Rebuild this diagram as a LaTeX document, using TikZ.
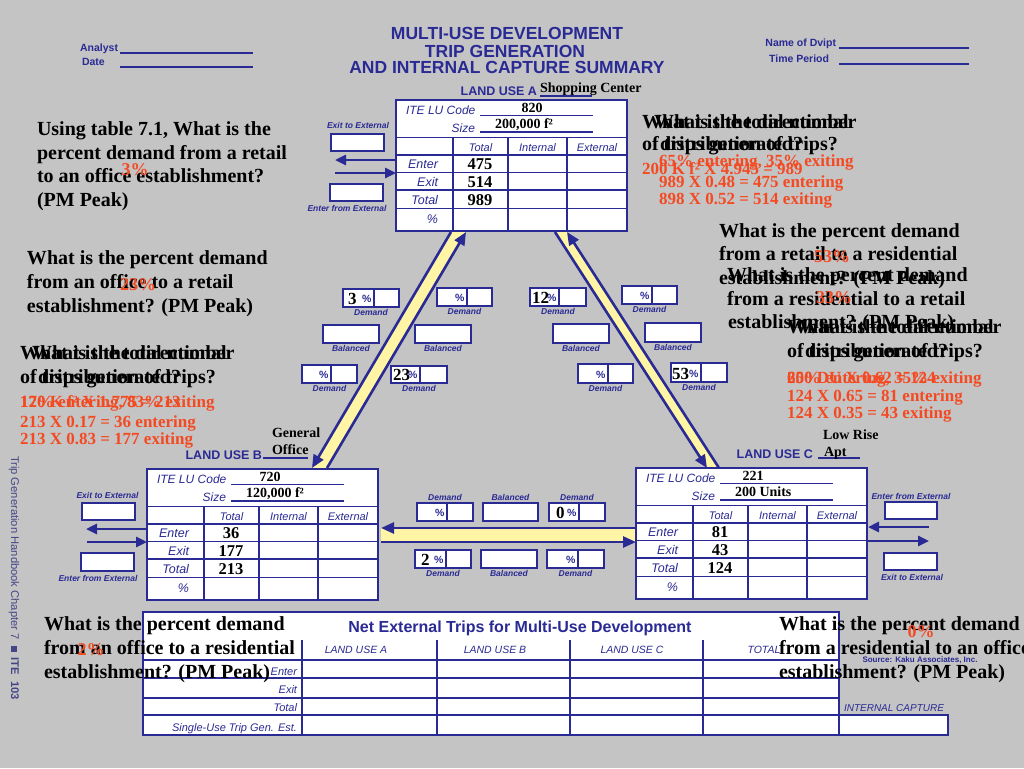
\documentclass[tikz,border=0pt]{standalone}
\usepackage{fontspec}
\setmainfont{Liberation Serif}
\setsansfont{Liberation Sans}
\usetikzlibrary{arrows.meta}
\definecolor{bgc}{RGB}{196,196,197}
\definecolor{fb}{RGB}{42,42,148}
\definecolor{org}{RGB}{244,74,34}
\definecolor{yel}{RGB}{255,245,165}
\definecolor{sidec}{RGB}{70,70,135}
\newcommand\fsz[2]{\fontsize{#1}{#2}\selectfont}
\tikzset{
  every node/.style={inner sep=0pt, outer sep=0pt},
  ttl/.style={anchor=base, text=fb, font=\sffamily\bfseries\fsz{17.5}{20}},
  hdl/.style={text=fb, font=\sffamily\bfseries\fsz{10.5}{12}},
  lub/.style={anchor=base east, text=fb, font=\sffamily\bfseries\fsz{12.5}{14}},
  tlab/.style={text=fb, font=\sffamily\itshape\fsz{12}{14}},
  colh/.style={anchor=base, text=fb, font=\sffamily\itshape\fsz{11}{13}},
  rowl/.style={anchor=base east, text=fb, font=\sffamily\itshape\fsz{12.5}{14}},
  bcolh/.style={anchor=base, text=fb, font=\sffamily\itshape\fsz{10.5}{12}},
  browl/.style={anchor=base east, text=fb, font=\sffamily\itshape\fsz{11}{13}},
  xsm/.style={text=fb, font=\sffamily\bfseries\itshape\fsz{8.5}{10}},
  hnd/.style={text=black, font=\bfseries\fsz{14}{16}},
  numv/.style={anchor=base, text=black, font=\bfseries\fsz{16.5}{18}},
  qtx/.style={anchor=base west, text=black, font=\bfseries\fsz{20}{24}},
  otx/.style={anchor=base west, text=org, font=\bfseries\fsz{17}{20}},
  opc/.style={anchor=center, text=org, font=\bfseries\fsz{18}{20}},
  wbox/.style={draw=fb, fill=white, line width=1.5pt},
  tabframe/.style={draw=fb, fill=white, line width=1.9pt},
  tabline/.style={draw=fb, line width=1.2pt},
  fl/.style={draw=fb, line width=1.1pt},
  extarr/.style={draw=fb, line width=2.6pt, -{Triangle[length=11pt,width=10pt]}},
  bandl/.style={draw=fb, line width=2.6pt, -{Triangle[length=13pt,width=11pt]}},
  pcts/.style={anchor=base east, text=fb, font=\sffamily\bfseries\fsz{10.5}{12}},
  valb/.style={anchor=base west, text=black, font=\bfseries\fsz{17}{18}},
}
% land-use table: x0 y0 id codex code size enter exit total
\newcommand\lutab[9]{%
\begin{scope}[shift={(#1,#2)}]
\draw[tabframe] (0,0) rectangle (231,131);
\draw[tabline] (0,37.5)--(231,37.5) (0,55)--(231,55) (0,72.5)--(231,72.5) (0,90)--(231,90) (0,108.5)--(231,108.5)
  (57,37.5)--(57,131) (112,37.5)--(112,131) (171,37.5)--(171,131);
\node[tlab,anchor=base west] (#3code) at (10,14.5) {ITE LU Code};
\draw[tabline] (84,15.5)--(197,15.5);
\node[tlab,anchor=base east] (#3size) at (79,32) {Size};
\draw[tabline] (84,32)--(197,32);
\node[hnd,anchor=base] (#3cv) at (#4,12) {#5};
\node[hnd,anchor=base west] (#3sv) at (99,28) {#6};
\node[colh] (#3h1) at (84.5,51) {Total};
\node[colh] (#3h2) at (141.5,51) {Internal};
\node[colh] (#3h3) at (201,51) {External};
\node[rowl] (#3r1) at (42,68) {Enter};
\node[rowl] (#3r2) at (42,86) {Exit};
\node[rowl] (#3r3) at (42,104) {Total};
\node[rowl] (#3r4) at (42,123) {\%};
\node[numv] (#3v1) at (84,69.5) {#7};
\node[numv] (#3v2) at (84,87) {#8};
\node[numv] (#3v3) at (84,105) {#9};
\end{scope}}
\newcommand\dbx[6]{%
  \draw[wbox] (#2,#3) rectangle (#4,#5);
  \draw[tabline] (#6,#3) -- (#6,#5);
  \node[pcts] (#1) at ({#6-2.5},{#5-5}) {\%};}
\newcommand\bbx[4]{\draw[wbox] (#1,#2) rectangle (#3,#4);}
\begin{document}
\begin{tikzpicture}[x=1pt,y=-1pt]
\fill[bgc] (0,0) rectangle (1024,768);
\useasboundingbox (0,0) rectangle (1024,768);

% header
\node[hdl,anchor=base east] (an) at (118,52) {Analyst};
\draw[fl] (120,53) -- (253,53);
\node[hdl,anchor=base west] (dt) at (82,66) {Date};
\draw[fl] (120,67) -- (253,67);
\node[ttl] (t1) at (507,40) {MULTI-USE DEVELOPMENT};
\node[ttl] (t2) at (505,57) {TRIP GENERATION};
\node[ttl] (t3) at (507,74) {AND INTERNAL CAPTURE SUMMARY};
\node[hdl,anchor=base east] (nd) at (836,46) {Name of Dvipt};
\draw[fl] (839,48) -- (969,48);
\node[hdl,anchor=base east] (tp) at (829,63) {Time Period};
\draw[fl] (839,64) -- (969,64);

% bands
\fill[yel] (451,231) -- (466,231) -- (327,468) -- (312,468) -- cycle;
\draw[bandl] (451,232) coordinate (lbo1) -- (312,468) coordinate (lbo2);
\draw[bandl] (327,468) coordinate (lbi2) -- (466,232) coordinate (lbi1);
\fill[yel] (555,231) -- (567,231) -- (719,468) -- (707,468) -- cycle;
\draw[bandl] (555,232) coordinate (rbi1) -- (707,468) coordinate (rbi2);
\draw[bandl] (719,468) coordinate (rbo2) -- (567,232) coordinate (rbo1);
\fill[yel] (381,528) rectangle (636,542);
\draw[bandl] (636,528) coordinate (hb1) -- (381,528) coordinate (hb2);
\draw[bandl] (381,542) coordinate (hb3) -- (636,542) coordinate (hb4);

% tables
\lutab{396}{100}{A}{136}{820}{200,000 f²}{475}{514}{989}
\lutab{147}{469}{B}{123}{720}{120,000 f²}{36}{177}{213}
\lutab{636}{468}{C}{117}{221}{200 Units}{81}{43}{124}

\node[lub] (luA) at (537,95) {LAND USE A};
\node[hnd,anchor=base west] (nmA) at (540,92) {Shopping Center};
\draw[fl] (540,96) -- (592,96);
\node[lub] (luB) at (262,459) {LAND USE B};
\draw[fl] (263,458) -- (308,458);
\node[hnd,anchor=base west] (nmB1) at (272,437) {General};
\node[hnd,anchor=base west] (nmB2) at (272,454) {Office};
\node[lub] (luC) at (813,458) {LAND USE C};
\draw[fl] (818,458) -- (860,458);
\node[hnd,anchor=base west] (nmC1) at (823,439) {Low Rise};
\node[hnd,anchor=base west] (nmC2) at (824,456) {Apt};

% external boxes and arrows
\node[xsm,anchor=base] (axl) at (358,128) {Exit to External};
\draw[wbox] (331,134) rectangle (384,151);
\draw[extarr] (396,160) coordinate (ax1) -- (335,160) coordinate (ax2);
\draw[extarr] (335,173) coordinate (ax3) -- (396,173) coordinate (ax4);
\draw[wbox] (330,184) rectangle (383,201);
\node[xsm,anchor=base] (ael) at (347,211) {Enter from External};

\node[xsm,anchor=base] (bxl) at (107.5,498) {Exit to External};
\draw[wbox] (82,503) rectangle (135,520);
\draw[extarr] (147,529) coordinate (bx1) -- (86,529) coordinate (bx2);
\draw[extarr] (87,542) coordinate (bx3) -- (147,542) coordinate (bx4);
\draw[wbox] (81,553) rectangle (134,571);
\node[xsm,anchor=base] (bel) at (98,581) {Enter from External};

\node[xsm,anchor=base] (cel) at (911,499) {Enter from External};
\draw[wbox] (885,502) rectangle (937,519);
\draw[extarr] (929,527) coordinate (cx1) -- (868,527) coordinate (cx2);
\draw[extarr] (868,541) coordinate (cx3) -- (929,541) coordinate (cx4);
\draw[wbox] (884,553) rectangle (937,570);
\node[xsm,anchor=base] (cxl) at (912,580) {Exit to External};

% demand / balanced boxes
\dbx{d1}{343}{289}{399}{307}{374}
\node[xsm,anchor=north] (d1l) at (371,309.5) {Demand};
\dbx{d2}{437}{288}{492}{306}{467}
\node[xsm,anchor=north] (d2l) at (464.5,308.5) {Demand};
\bbx{323}{325}{379}{343}
\node[xsm,anchor=north] (b1l) at (351,345.5) {Balanced};
\bbx{415}{325}{471}{343}
\node[xsm,anchor=north] (b2l) at (443,345.5) {Balanced};
\dbx{d3}{302}{365}{357}{383}{331}
\node[xsm,anchor=north] (d3l) at (329.5,385.5) {Demand};
\dbx{d4}{391}{366}{447}{383}{420}
\node[xsm,anchor=north] (d4l) at (419,385.5) {Demand};
\dbx{d5}{530}{288}{586}{306}{559}
\node[xsm,anchor=north] (d5l) at (558,308.5) {Demand};
\dbx{d6}{622}{286}{677}{304}{652}
\node[xsm,anchor=north] (d6l) at (649.5,306.5) {Demand};
\bbx{553}{324}{609}{343}
\node[xsm,anchor=north] (b3l) at (581,345.5) {Balanced};
\bbx{645}{323}{701}{342}
\node[xsm,anchor=north] (b4l) at (673,344.5) {Balanced};
\dbx{d7}{578}{364}{633}{383}{608}
\node[xsm,anchor=north] (d7l) at (605.5,385.5) {Demand};
\dbx{d8}{671}{363}{727}{382}{701}
\node[xsm,anchor=north] (d8l) at (699,384.5) {Demand};

\dbx{d9}{417}{503}{473}{521}{447}
\node[xsm,anchor=south] (d9l) at (445,500.5) {Demand};
\bbx{483}{503}{538}{521}
\node[xsm,anchor=south] (b5l) at (510.5,500.5) {Balanced};
\dbx{d10}{549}{503}{605}{521}{579}
\node[xsm,anchor=south] (d10l) at (577,500.5) {Demand};
\dbx{d11}{415}{550}{471}{568}{446}
\node[xsm,anchor=north] (d11l) at (443,570.5) {Demand};
\bbx{481}{550}{537}{568}
\node[xsm,anchor=north] (b6l) at (509,570.5) {Balanced};
\dbx{d12}{547}{550}{604}{568}{578}
\node[xsm,anchor=north] (d12l) at (575.5,570.5) {Demand};

\node[valb] (v1) at (348,304) {3};
\node[valb] (v2) at (532,303) {12};
\node[valb] (v3) at (393,380) {23};
\node[valb] (v4) at (672,379) {53};
\node[valb] (v5) at (556,518) {0};
\node[valb] (v6) at (421,565) {2};

% bottom table
\fill[white] (143,612) rectangle (839,735);
\draw[tabline] (143,660) -- (839,660) (143,678) -- (839,678) (143,698) -- (839,698) (143,715) -- (839,715)
  (302,640) -- (302,735) (437,640) -- (437,735) (570,640) -- (570,735) (703,640) -- (703,735);
\draw[draw=fb, line width=1.9pt] (143,612) rectangle (839,735);
\node[anchor=base, text=fb, font=\sffamily\bfseries\fsz{16}{18}] (nt) at (520,632) {Net External Trips for Multi-Use Development};
\node[bcolh] (bh1) at (356,653) {LAND USE A};
\node[bcolh] (bh2) at (495,653) {LAND USE B};
\node[bcolh] (bh3) at (632,653) {LAND USE C};
\node[bcolh] (bh4) at (764,653) {TOTAL};
\node[browl] (br1) at (297,675) {Enter};
\node[browl] (br2) at (297,693) {Exit};
\node[browl] (br3) at (297,711) {Total};
\node[browl] (br4) at (297,731) {Single-Use Trip Gen. Est.};
\node[anchor=base, text=fb, font=\sffamily\bfseries\fsz{8}{9}] (src) at (920,662) {Source: Kaku Associates, Inc.};
\node[anchor=base, text=fb, font=\sffamily\itshape\fsz{10}{12}] (icl) at (894,711) {INTERNAL CAPTURE};
\draw[wbox] (839,715) rectangle (948,735);

% side text
\node[rotate=-90, anchor=west, text=sidec, font=\sffamily\fsz{11.2}{13}] (side) at (14,456)
  {Trip Generation Handbook Chapter 7\ \ \rule{5.5pt}{5.5pt}\ \ \textbf{ITE}\ \ \textbf{103}};

% questions
\node[qtx] (q1a) at (37,135) {Using table 7.1, What is the};
\node[qtx] (q1b) at (37,159) {percent demand from a retail};
\node[qtx] (q1c) at (37,182) {to an office establishment?};
\node[qtx] (q1d) at (37,206) {(PM Peak)};
\node[opc] (o1) at (135,170) {3\%};

\node[qtx] (q2a) at (27,264) {What is the percent demand};
\node[qtx] (q2b) at (27,288) {from an office to a retail};
\node[qtx] (q2c) at (27,312) {establishment? (PM Peak)};
\node[opc] (o2) at (138,285) {23\%};

% top right overlapping blocks
\node[qtx] (q3a) at (642,128) {What is the total number};
\node[qtx] (q3b) at (642,150) {of trips generated?};
\node[qtx] (q3c) at (654,128) {What is the directional};
\node[qtx] (q3d) at (660,150) {distribution of trips?};
\node[otx] (o3a) at (659,166) {65\% entering, 35\% exiting};
\node[otx] (o3b) at (642,174) {200 K f² X 4.945 = 989};
\node[otx] (o3c) at (659,187) {989 X 0.48 = 475 entering};
\node[otx] (o3d) at (659,204) {898 X 0.52 = 514 exiting};

\node[qtx] (q4a) at (719,237) {What is the percent demand};
\node[qtx] (q4b) at (719,260) {from a retail to a residential};
\node[qtx] (q4c) at (719,284) {establishment? (PM Peak)};
\node[opc] (o4) at (832,257) {53\%};

\node[qtx] (q5a) at (727,281) {What is the percent demand};
\node[qtx] (q5b) at (727,305) {from a residential to a retail};
\node[qtx] (q5c) at (728,328) {establishment? (PM Peak)};
\node[opc] (o5) at (834,298) {33\%};

% left middle overlapping blocks
\node[qtx] (q6a) at (20,359) {What is the total number};
\node[qtx] (q6b) at (20,383) {of trips generated?};
\node[qtx] (q6c) at (32,359) {What is the directional};
\node[qtx] (q6d) at (38,383) {distribution of trips?};
\node[otx] (o6a) at (20,407) {17\% entering, 83\% exiting};
\node[otx] (o6b) at (20,407) {120 K f² X 1.775 = 213};
\node[otx] (o6c) at (20,427) {213 X 0.17 = 36 entering};
\node[otx] (o6d) at (20,444) {213 X 0.83 = 177 exiting};

% right middle overlapping blocks
\node[qtx] (q7a) at (787,333) {What is the total number};
\node[qtx] (q7b) at (787,357) {of trips generated?};
\node[qtx] (q7c) at (799,333) {What is the directional};
\node[qtx] (q7d) at (805,357) {distribution of trips?};
\node[otx] (o7a) at (787,383) {65\% entering, 35\% exiting};
\node[otx] (o7b) at (787,383) {200 DU X 0.62 = 124};
\node[otx] (o7c) at (787,401) {124 X 0.65 = 81 entering};
\node[otx] (o7d) at (787,418) {124 X 0.35 = 43 exiting};

% bottom questions
\node[qtx] (q8a) at (44,630) {What is the percent demand};
\node[qtx] (q8b) at (44,654) {from an office to a residential};
\node[qtx] (q8c) at (44,678) {establishment? (PM Peak)};
\node[opc] (o8) at (91,650) {2\%};

\node[qtx] (q9a) at (779,630) {What is the percent demand};
\node[qtx] (q9b) at (779,654) {from a residential to an office};
\node[qtx] (q9c) at (779,678) {establishment? (PM Peak)};
\node[opc] (o9) at (921,632) {0\%};
\end{tikzpicture}
\end{document}
